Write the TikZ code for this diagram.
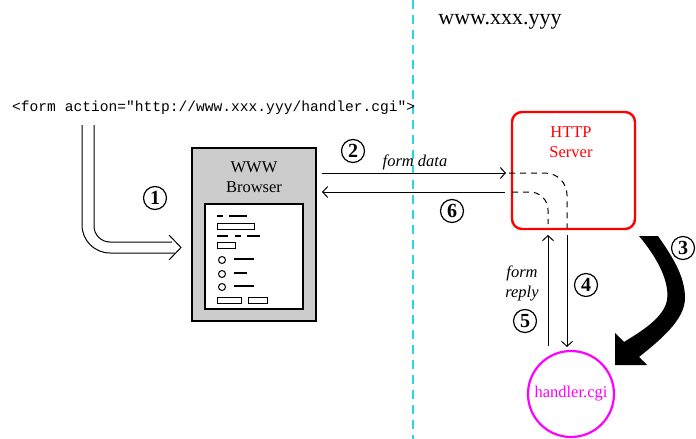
\documentclass[tikz,border=0pt]{standalone}
\usepackage{fontspec}
\setmainfont{Liberation Serif}
\setmonofont{Liberation Mono}
\usetikzlibrary{arrows.meta}
\definecolor{cyanline}{RGB}{40,215,230}
\definecolor{grayfill}{RGB}{204,204,204}
\definecolor{srvred}{RGB}{255,0,0}
\definecolor{hdlmag}{RGB}{255,0,255}
\begin{document}
\begin{tikzpicture}[x=1pt,y=-1pt,
  lbl/.style={font=\fontsize{16.5}{20}\selectfont, align=center, inner sep=0},
  num/.style={circle, draw, line width=1.2pt, minimum size=23pt, inner sep=0, font=\bfseries\fontsize{20}{20}\selectfont},
  arr/.style={line width=1pt, -{Straight Barb[length=5pt,width=11pt]}},
  dsh/.style={line width=1pt, dash pattern=on 6pt off 5pt},
  ui/.style={line width=1pt},
  uibar/.style={line width=2.2pt}
]
\useasboundingbox (0,0) rectangle (696,439);

% separator
\draw[cyanline, line width=1.2pt, dash pattern=on 9pt off 6pt] (413,0) -- (413,439);

% titles
\node (site) at (500,22) {\fontsize{22}{24}\selectfont www.xxx.yyy};
\node[anchor=west, inner sep=0, font=\ttfamily\fontsize{14.6}{16}\selectfont] (form) at (12,108) {<form action="http://www.xxx.yyy/handler.cgi">};

% browser
\node[draw, fill=grayfill, line width=1.3pt, minimum width=124pt, minimum height=173pt] (browser) at (254,234.5) {};
\node[lbl] (btitle) at (254,177) {WWW\\Browser};
\node[draw, fill=white, line width=1.1pt, minimum width=98pt, minimum height=105pt] (screen) at (254,256.5) {};
\draw[uibar] (217,216) -- (223,216) (229,216) -- (247,216);
\draw[ui] (217,223) rectangle (254,229);
\draw[uibar] (217,236) -- (228,236) (235,236) -- (241,236) (247,236) -- (260,236);
\draw[ui] (217,242) rectangle (235,248);
\draw[ui] (222,260) circle (3.5) (222,274) circle (3.5) (222,287) circle (3.5);
\draw[uibar] (234,259) -- (254,259) (234,273) -- (247,273) (234,286) -- (254,286);
\draw[ui] (217,297) rectangle (241,303) (248,297) rectangle (267,303);

% server
\node[draw=srvred, line width=2.4pt, rounded corners=10pt, minimum width=123pt, minimum height=117pt] (server) at (573.5,170.5) {};
\node[lbl, text=srvred] (stitle) at (571,142) {HTTP\\Server};

% handler
\node[circle, draw=hdlmag, line width=2.2pt, minimum size=86pt, inner sep=0, text=hdlmag, font=\fontsize{16.5}{20}\selectfont] (handler) at (571,394) {handler.cgi};

% double arrow 1
\coordinate (d1o) at (82,125);
\coordinate (d1i) at (94,125);
\coordinate (d1t) at (181,247.5);
\draw[ui, rounded corners=28pt] (d1o) -- (82,253) -- (175,253);
\draw[ui, rounded corners=16pt] (d1i) -- (94,242) -- (172,242);
\draw[ui] (169,235) -- (d1t) -- (169,260);

% form data / reply arrows
\coordinate (a2s) at (322,173);
\coordinate (a2e) at (506,173);
\coordinate (a6s) at (505,192);
\coordinate (a6e) at (322,192);
\draw[arr] (a2s) -- (a2e);
\draw[arr] (a6s) -- (a6e);
\node[lbl, font=\itshape\fontsize{16.5}{20}\selectfont] (fdata) at (415,162) {form data};
\draw[dsh, rounded corners=22pt] (509,173) -- (567,173) -- (567,228);
\draw[dsh, rounded corners=18pt] (512,192) -- (548,192) -- (548,224);

% server <-> handler
\coordinate (a4s) at (567,235);
\coordinate (a4e) at (567,347);
\coordinate (a5s) at (548,346);
\coordinate (a5e) at (548,235);
\draw[arr] (a4s) -- (a4e);
\draw[arr] (a5s) -- (a5e);
\node[lbl, font=\itshape\fontsize{16.5}{20}\selectfont] (freply) at (522,283) {form\\reply};

% big arrow 3
\fill[black] (639,236) .. controls (655,255) and (670,280) .. (667,300)
  .. controls (664,318) and (640,332) .. (624,342) -- (615,333) -- (615,365) -- (647,365) -- (639,357)
  .. controls (660,340) and (685,320) .. (685,298)
  .. controls (685,275) and (671,255) .. (658,236) -- cycle;

% numbers
\node[num] (n1) at (155,198) {1};
\node[num] (n2) at (353,151) {2};
\node[num] (n3) at (683,248) {3};
\node[num] (n4) at (586,285) {4};
\node[num] (n5) at (525,321) {5};
\node[num] (n6) at (452,211) {6};
\end{tikzpicture}
\end{document}
